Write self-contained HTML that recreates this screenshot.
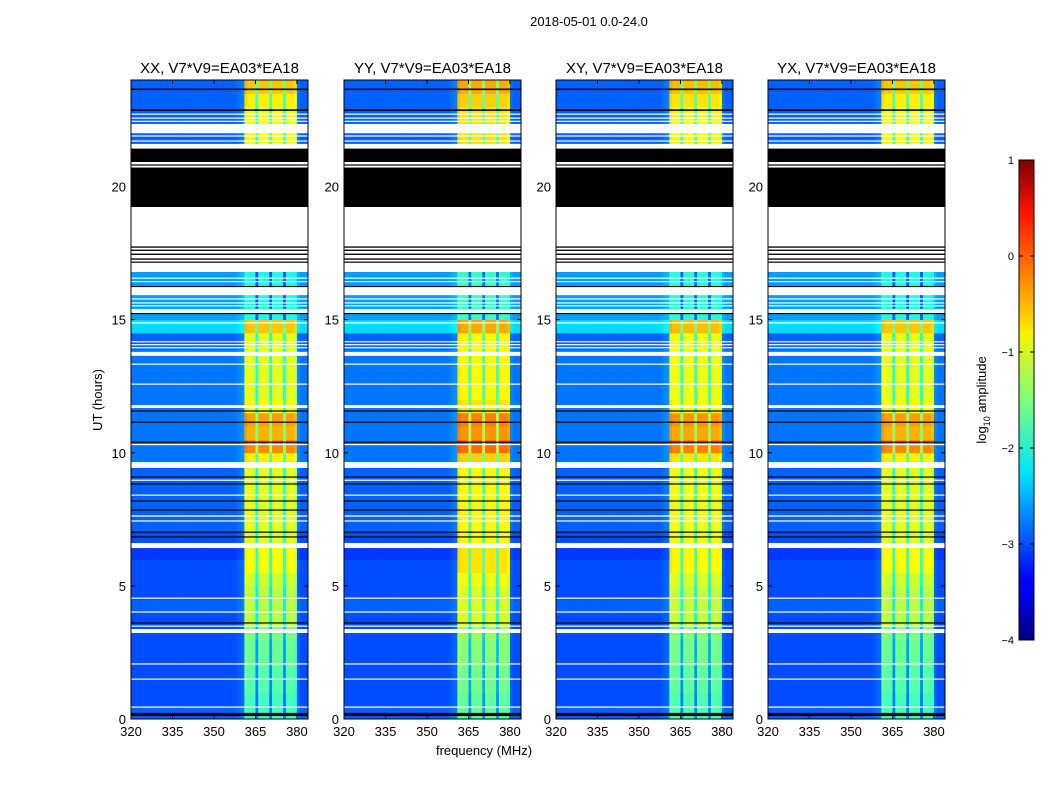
<!DOCTYPE html>
<html><head><meta charset="utf-8"><style>
body{margin:0;background:#fff;font-family:"Liberation Sans",sans-serif}
svg text{font-family:"Liberation Sans",sans-serif}
</style></head><body>
<svg id="chart" width="1050" height="800" xmlns="http://www.w3.org/2000/svg">
<defs><linearGradient id="jet" x1="0" y1="1" x2="0" y2="0">
<stop offset="0" stop-color="#00007f"/><stop offset="0.11" stop-color="#0000ff"/><stop offset="0.125" stop-color="#0000ff"/><stop offset="0.34" stop-color="#00dcff"/><stop offset="0.35" stop-color="#00e5f6"/><stop offset="0.5" stop-color="#7dff7a"/><stop offset="0.64" stop-color="#f6f400"/><stop offset="0.66" stop-color="#ffda00"/><stop offset="0.89" stop-color="#ff1300"/><stop offset="1" stop-color="#7f0000"/></linearGradient></defs>
<text x="589" y="26" font-size="13" text-anchor="middle">2018-05-01 0.0-24.0</text>
<text transform="translate(102,400) rotate(-90)" font-size="13" text-anchor="middle">UT (hours)</text>
<text x="484" y="755" font-size="13" text-anchor="middle">frequency (MHz)</text>
<g id="panels"></g>
<g>
<rect x="1019" y="160" width="15" height="480" fill="url(#jet)" stroke="#000"/>
<g id="cbticks"></g>
<text transform="translate(986,400) rotate(-90)" font-size="13" text-anchor="middle">log<tspan font-size="9" dy="4">10</tspan><tspan dy="-4"> amplitude</tspan></text>
</g>
</svg>
<script>
const panelTitles=["XX, V7*V9=EA03*EA18","YY, V7*V9=EA03*EA18","XY, V7*V9=EA03*EA18","YX, V7*V9=EA03*EA18"];
const panelBoost=[0,0.15,0.05,0];
const xTicks=[320,335,350,365,380];
const yTicks=[0,5,10,15,20];
const cbTicks=[1,0,-1,-2,-3,-4];
// band level per half-hour bin (log10 amplitude)
const bandLevel=[-1.8,-1.8,-1.7,-1.7,-1.6,-1.6,-1.5,-1.2,-1.2,-1.2,-1.1,-0.9,-0.9,-1.0,-1.0,-1.0,-1.0,-1.0,-1.0,-0.8,-0.3,-0.5,-0.4,-0.9,-1.0,-1.0,-1.0,-1.0,-1.0,-0.6,-2.0,-2.0,-2.0,-2.0,-1.0,-1.0,-1.0,-1.0,-1.0,-1.0,-1.0,-1.0,-1.0,-0.9,-0.9,-0.9,-0.8,-0.6];
const bgLevel=[-2.9,-3.0,-3.0,-3.0,-3.0,-3.0,-3.0,-3.0,-2.9,-3.0,-3.0,-3.0,-3.1,-3.0,-2.9,-2.9,-2.9,-2.9,-2.9,-2.8,-2.8,-2.8,-2.8,-2.8,-2.8,-2.8,-2.8,-2.8,-2.9,-2.3,-2.6,-2.6,-2.6,-2.6,-2.9,-2.9,-2.9,-2.9,-2.9,-2.9,-2.9,-2.9,-2.9,-2.9,-2.9,-2.9,-2.9,-2.9];
// channel (1 MHz from 320) band membership and offset
const chanBand=[0,0,0,0,0,0,0,0,0,0,0,0,0,0,0,0,0,0,0,0,0,0,0,0,0,0,0,0,0,0,0,0,0,0,0,0,0,0,0,0,0,1,1,1,1,1,1,1,1,1,1,1,1,1,1,1,1,1,1,1,0,0,0,0,0];
const chanOffset=[0,0,0,0,0,0,0,0,0,0,0,0,0,0,0,0,0,0,0,0,0,0,0,0,0,0,0,0,0,0,0,0,0,0,0,0,0,0,0.05,0.1,0.15,0.1,0,0,0,-1.0,0,0,0,0,-1.0,0,0,0,0,-1.0,0,0,0,-0.1,0.1,0,0,0,0];
// flagged time ranges [start hr, end hr, colour code]
const flags=[[23.62,23.68,'k'],[22.84,22.9,'k'],[22.7,22.74,'w'],[22.55,22.59,'w'],[22.44,22.47,'w'],[22.0,22.35,'w'],[21.88,21.92,'w'],[21.7,21.73,'w'],[21.42,21.6,'w'],[20.92,21.42,'k'],[20.71,20.92,'w'],[20.79,20.83,'k'],[19.23,20.71,'k'],[16.79,19.23,'w'],[17.7,17.75,'k'],[17.58,17.63,'k'],[17.43,17.48,'k'],[17.25,17.3,'k'],[17.14,17.18,'k'],[16.55,16.58,'w'],[16.42,16.45,'w'],[16.22,16.26,'k'],[15.92,16.22,'w'],[15.77,15.8,'w'],[15.62,15.65,'w'],[15.51,15.54,'w'],[15.25,15.4,'w'],[15.21,15.25,'k'],[14.87,14.9,'w'],[14.16,14.19,'w'],[14.05,14.08,'w'],[13.94,13.97,'w'],[13.64,13.79,'w'],[13.32,13.35,'w'],[12.57,12.6,'w'],[11.68,11.79,'w'],[11.55,11.59,'k'],[11.13,11.17,'k'],[10.38,10.42,'k'],[10.3,10.33,'w'],[9.43,9.65,'w'],[9.07,9.11,'k'],[8.96,8.99,'w'],[8.81,8.85,'k'],[8.4,8.43,'w'],[8.17,8.21,'k'],[7.83,7.87,'k'],[7.6,7.65,'w'],[7.42,7.46,'w'],[7.0,7.04,'k'],[6.82,6.86,'k'],[6.42,6.61,'w'],[4.53,4.56,'w'],[4.01,4.04,'w'],[3.59,3.63,'k'],[3.48,3.51,'w'],[3.23,3.38,'w'],[2.06,2.09,'w'],[1.49,1.52,'w'],[0.44,0.47,'w'],[0.11,0.23,'k']];

const NS='http://www.w3.org/2000/svg';
function mk(t,a,p){const e=document.createElementNS(NS,t);for(const k in a)e.setAttribute(k,a[k]);p.appendChild(e);return e;}
function jet(v){let x=(v+4)/5;x=Math.max(0,Math.min(1,x));
 const r=Math.min(1,Math.max(0,1.5-Math.abs(4*x-3))),g=Math.min(1,Math.max(0,1.5-Math.abs(4*x-2))),b=Math.min(1,Math.max(0,1.5-Math.abs(4*x-1)));
 return `rgb(${Math.round(r*255)},${Math.round(g*255)},${Math.round(b*255)})`;}
const panelX=[131,344,556,768],PW=177,PT=80,PB=719;
const fMin=320,fMax=384,tMax=24;
const panels=document.getElementById('panels');
panelX.forEach((px,pi)=>{
 const xs=f=>px+(f-fMin)/(fMax-fMin)*PW;
 const ys=t=>PB-t/tMax*(PB-PT);
 const g=mk('g',{},panels);
 
 
 for(let ti=0;ti<bandLevel.length;ti++){
  for(let c=0;c<chanBand.length-1;c++){
   const v=(chanBand[c]?bandLevel[ti]+panelBoost[pi]:bgLevel[ti])+chanOffset[c];
   const r=mk('rect',{x:xs(fMin+c),y:ys((ti+1)/2),width:xs(fMin+c+1)-xs(fMin+c)+0.4,height:ys(ti/2)-ys((ti+1)/2)+0.4,fill:jet(v)},g);
   
   
  }
 }
 flags.forEach(f=>{
  const r=mk('rect',{x:px,y:ys(f[1]),width:PW,height:Math.max(1.2,ys(f[0])-ys(f[1])),fill:f[2]==='k'?'#000':'#fff'},g);
  
  
 });
 const fr=mk('rect',{x:px,y:PT,width:PW,height:PB-PT,fill:'none',stroke:'#000','stroke-width':1},g);
 
 
 const tt=mk('text',{x:px+PW/2,y:PT-7,'font-size':15,'text-anchor':'middle'},g);
 tt.textContent=panelTitles[pi];
 
 
 xTicks.forEach(v=>{const x=xs(v);
  mk('line',{x1:x,x2:x,y1:PB,y2:PB-4,stroke:'#000'},g);mk('line',{x1:x,x2:x,y1:PT,y2:PT+4,stroke:'#000'},g);
  const t=mk('text',{x:x,y:PB+17,'font-size':13,'text-anchor':'middle'},g);t.textContent=v;
  
  });
 yTicks.forEach(v=>{const y=ys(v);
  mk('line',{x1:px,x2:px+4,y1:y,y2:y,stroke:'#000'},g);mk('line',{x1:px+PW,x2:px+PW-4,y1:y,y2:y,stroke:'#000'},g);
  const t=mk('text',{x:px-5,y:y+5,'font-size':13,'text-anchor':'end'},g);t.textContent=v;
  
  });
});
const cb=document.getElementById('cbticks');
cbTicks.forEach(v=>{const y=160+(1-v)/5*480;
 mk('line',{x1:1019,x2:1023,y1:y,y2:y,stroke:'#000'},cb);mk('line',{x1:1034,x2:1030,y1:y,y2:y,stroke:'#000'},cb);
 const t=mk('text',{x:1014,y:y+4,'font-size':11,'text-anchor':'end'},cb);t.textContent=v<0?'\u2212'+(-v):v;
 
 });
</script>
</body></html>
